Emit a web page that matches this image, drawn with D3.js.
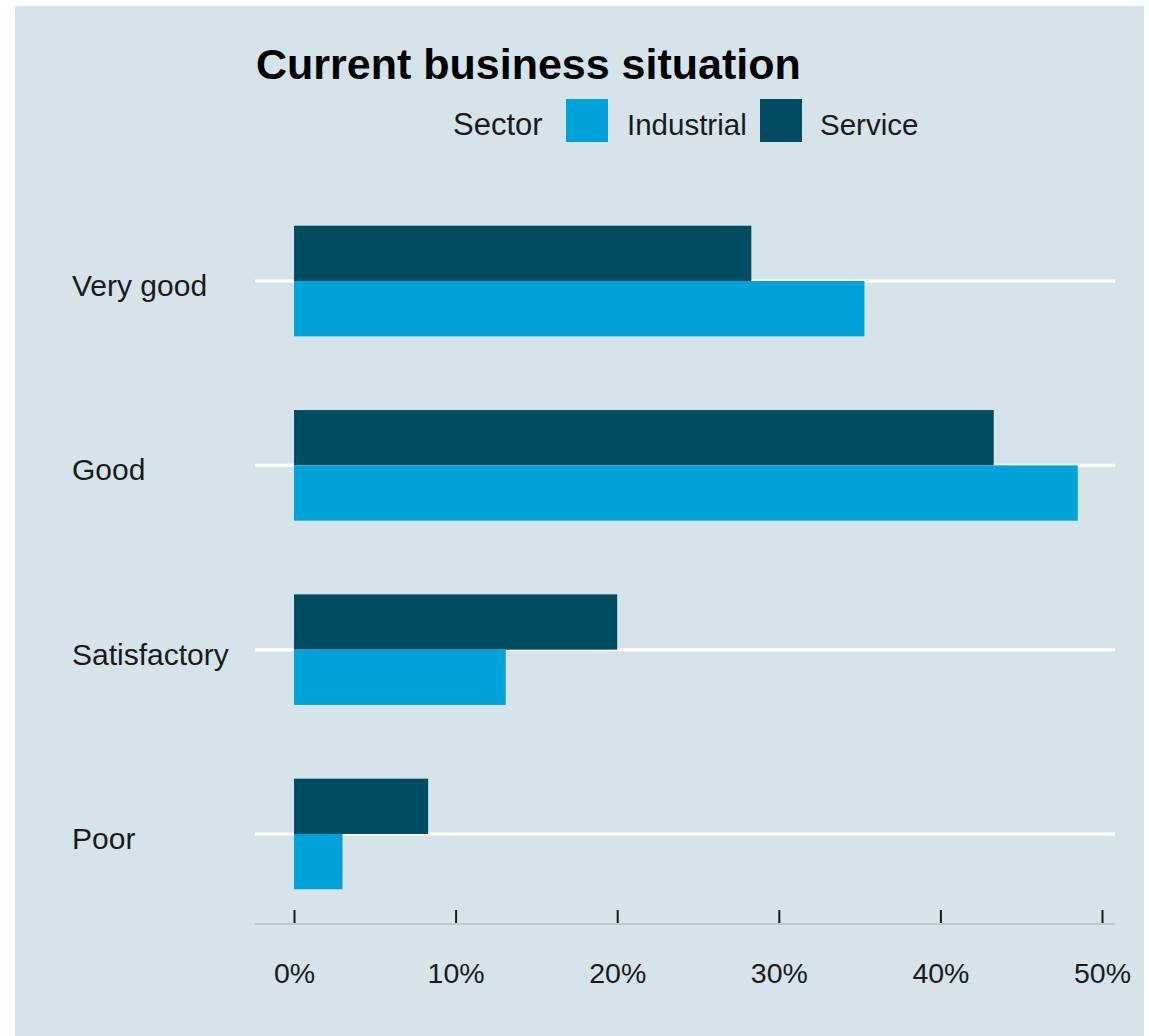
<!DOCTYPE html>
<html>
<head>
<meta charset="utf-8">
<script src="https://cdn.jsdelivr.net/npm/d3@7"></script>
<style>
  body { margin: 0; background: #ffffff; }
  text { font-family: "Liberation Sans", Arial, sans-serif; }
</style>
</head>
<body>
<script>
// chart data
const categories = ["Very good", "Good", "Satisfactory", "Poor"];
const sectors = ["Industrial", "Service"];
const industrialValues = [35.3, 48.5, 13.1, 3.0];
const serviceValues = [28.3, 43.3, 20.0, 8.3];
const xTicks = [0, 10, 20, 30, 40, 50];

// layout
const width = 1149;
const height = 1036;
const colors = { "Industrial": "#00a2d9", "Service": "#004d63" };
const bg = "#d5e4eb";

const svg = d3.select("body").append("svg")
  .attr("width", width)
  .attr("height", height);

svg.append("rect")
  .attr("x", 15).attr("y", 6)
  .attr("width", 1129).attr("height", height - 6)
  .attr("fill", bg);

const xScale = d3.scaleLinear().domain([0, 50]).range([294, 1102]);
const yScale = d3.scaleBand().domain(categories).range([152, 963])
  .paddingInner(0.4).paddingOuter(0.4);
const half = yScale.bandwidth() / 2;

// gridlines at category centres
svg.selectAll(".grid")
  .data(categories)
  .enter()
  .append("line")
  .attr("class", "grid")
  .attr("x1", 255).attr("x2", 1115)
  .attr("y1", function(d) { return yScale(d) + half; })
  .attr("y2", function(d) { return yScale(d) + half; })
  .attr("stroke", "#ffffff")
  .attr("stroke-width", 3);

const rows = categories.map(function(c, i) {
  return { cat: c, Industrial: industrialValues[i], Service: serviceValues[i] };
});

// service on top half, industrial on bottom half
svg.selectAll(".barService")
  .data(rows)
  .enter()
  .append("rect")
  .attr("class", "barService")
  .attr("x", xScale(0))
  .attr("y", function(d) { return yScale(d.cat); })
  .attr("width", function(d) { return xScale(d.Service) - xScale(0); })
  .attr("height", half)
  .attr("fill", colors.Service);

svg.selectAll(".barIndustrial")
  .data(rows)
  .enter()
  .append("rect")
  .attr("class", "barIndustrial")
  .attr("x", xScale(0))
  .attr("y", function(d) { return yScale(d.cat) + half; })
  .attr("width", function(d) { return xScale(d.Industrial) - xScale(0); })
  .attr("height", half)
  .attr("fill", colors.Industrial);

// y labels
svg.selectAll(".ylab")
  .data(categories)
  .enter()
  .append("text")
  .attr("class", "ylab")
  .attr("x", 72)
  .attr("y", function(d) { return yScale(d) + half + 15; })
  .attr("font-size", 30)
  .attr("fill", "#1a1a1a")
  .text(function(d) { return d; });

// x axis
const axisY = 924;
svg.append("line")
  .attr("x1", 255).attr("x2", 1115)
  .attr("y1", axisY).attr("y2", axisY)
  .attr("stroke", "#c4c8ca")
  .attr("stroke-width", 2);

const xAxis = d3.axisTop(xScale)
  .tickValues(xTicks)
  .tickSize(13)
  .tickFormat(function(d) { return d + "%"; });

const axisG = svg.append("g")
  .attr("transform", "translate(0," + (axisY - 1) + ")")
  .call(xAxis);
axisG.select(".domain").remove();
axisG.selectAll(".tick line").attr("stroke", "#1a1a1a").attr("stroke-width", 2);
axisG.selectAll(".tick text")
  .attr("y", 60)
  .attr("dy", 0)
  .attr("font-size", 28.5)
  .attr("font-family", "Liberation Sans, Arial, sans-serif")
  .attr("fill", "#1a1a1a");

// title
svg.append("text")
  .attr("x", 256).attr("y", 79)
  .attr("font-size", 43)
  .attr("font-weight", "bold")
  .attr("fill", "#000000")
  .text("Current business situation");

// legend
svg.append("text")
  .attr("x", 453).attr("y", 135)
  .attr("font-size", 31)
  .attr("fill", "#1a1a1a")
  .text("Sector");

const legendX = [566, 760];
const legend = svg.selectAll(".legend")
  .data(sectors)
  .enter()
  .append("g")
  .attr("class", "legend")
  .attr("transform", function(d, i) { return "translate(" + legendX[i] + ",99)"; });

legend.append("rect")
  .attr("width", 42).attr("height", 43)
  .attr("fill", function(d) { return colors[d]; });

legend.append("text")
  .attr("x", function(d, i) { return i === 0 ? 61 : 60; })
  .attr("y", 36)
  .attr("font-size", 29.5)
  .attr("fill", "#1a1a1a")
  .text(function(d) { return d; });
</script>
</body>
</html>
